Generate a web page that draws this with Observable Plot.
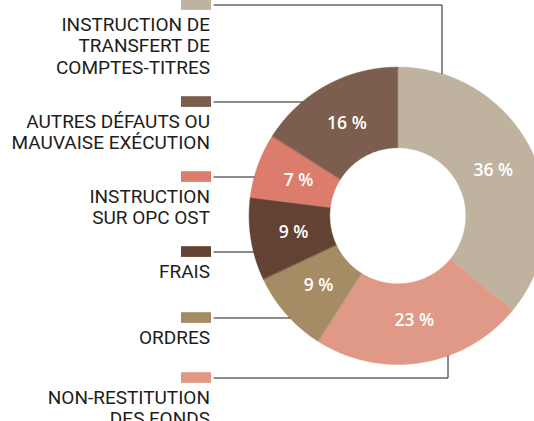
<!DOCTYPE html>
<html><head><meta charset="utf-8">
<script src="https://cdn.jsdelivr.net/npm/d3@7"></script>
<script src="https://cdn.jsdelivr.net/npm/@observablehq/plot@0.6"></script>
<style>html,body{margin:0;padding:0;background:#fff;overflow:hidden}</style>
</head><body><div id="chart"></div>
<script>
// ---- data (clockwise from 12 o'clock) ----
const categories = [
  "INSTRUCTION DE\nTRANSFERT DE\nCOMPTES-TITRES",
  "NON-RESTITUTION\nDES FONDS",
  "ORDRES",
  "FRAIS",
  "INSTRUCTION\nSUR OPC OST",
  "AUTRES DÉFAUTS OU\nMAUVAISE EXÉCUTION"
];
const values = [36, 23, 9, 9, 7, 16];
const valueLabels = ["36 %", "23 %", "9 %", "9 %", "7 %", "16 %"];
const colors = ["#bfb3a0", "#e19987", "#a58c65", "#624232", "#dc7c6c", "#7c5e4f"];
const legendOrder = [0, 5, 4, 3, 2, 1];

// ---- layout ----
const W = 534, H = 421;
const CX = 397.3, CY = 215.3, R = 148.7, R_IN = 68;
const inner = R_IN / R;
const ux = px => (px - CX) / R, uy = py => (py - CY) / R;
const rowY = [4.5, 101.5, 176.5, 251.5, 317.5, 377.5];
const elbowX = {0: 441.5, 5: 447.5};
const lineStart = 213.5, textRight = 209.5, lineGap = 21.3, firstBaseline = 26;

const pie = d3.pie().sort(null).value(d => d)(values);
const pt = (a, r) => ({x: r * Math.sin(a), y: -r * Math.cos(a)});

// slice polygons
const slices = pie.map((p, i) => {
  const n = Math.max(8, Math.ceil((p.endAngle - p.startAngle) / 0.01));
  const pts = [];
  for (let k = 0; k <= n; k++) pts.push(pt(p.startAngle + (p.endAngle - p.startAngle) * k / n, 1));
  for (let k = n; k >= 0; k--) pts.push(pt(p.startAngle + (p.endAngle - p.startAngle) * k / n, inner));
  return pts.map(q => ({...q, i}));
});

const labelPts = pie.map((p, i) => ({...pt((p.startAngle + p.endAngle) / 2, 0.71), text: valueLabels[i]}));

// legend
const swatches = legendOrder.map((ci, r) => ({
  x1: ux(181), x2: ux(211), y1: uy(rowY[r] - 5.3), y2: uy(rowY[r] + 5.4), fill: colors[ci]
}));
const leaders = legendOrder.map((ci, r) => {
  const y = rowY[r];
  const pts = [{x: ux(lineStart), y: uy(y)}];
  if (elbowX[r] !== undefined) {
    const ex = ux(elbowX[r]);
    const ey = (y < CY ? -1 : 1) * Math.sqrt(1 - ex * ex);
    pts.push({x: ex, y: uy(y)}, {x: ex, y: ey});
  } else {
    const yy = uy(y);
    pts.push({x: -Math.sqrt(1 - yy * yy), y: yy});
  }
  return pts.map(q => ({...q, r}));
}).flat();
const textRows = legendOrder.map((ci, r) =>
  categories[ci].split("\n").map((t, k) => ({text: t, y: rowY[r] + firstBaseline + k * lineGap}))
).flat();

const chart = Plot.plot({
  width: W, height: H, margin: 0,
  x: {domain: [ux(0), ux(W)], range: [0, W], axis: null},
  y: {domain: [uy(0), uy(H)], range: [0, H], axis: null},
  style: {background: "#fff"},
  marks: [
    ...slices.map((s, i) => Plot.line(s, {x: "x", y: "y", fill: colors[i], stroke: colors[i], strokeWidth: 0.5, curve: "linear-closed"})),
    Plot.text(labelPts, {x: "x", y: "y", text: "text", fill: "#fff", fontSize: 17.5, fontWeight: 600, fontFamily: "Open Sans"}),
    Plot.line(leaders, {x: "x", y: "y", z: "r", stroke: "#1d1d1b", strokeWidth: 1}),
    Plot.rect(swatches, {x1: "x1", x2: "x2", y1: "y1", y2: "y2", fill: d => d.fill}),
    Plot.text(textRows, {x: () => ux(textRight), y: d => uy(d.y), text: "text", textAnchor: "end", lineAnchor: "bottom", fontSize: 19, fontFamily: "Roboto", fill: "#1d1d1b"})
  ]
});
document.getElementById("chart").appendChild(chart);
</script>
</body></html>
